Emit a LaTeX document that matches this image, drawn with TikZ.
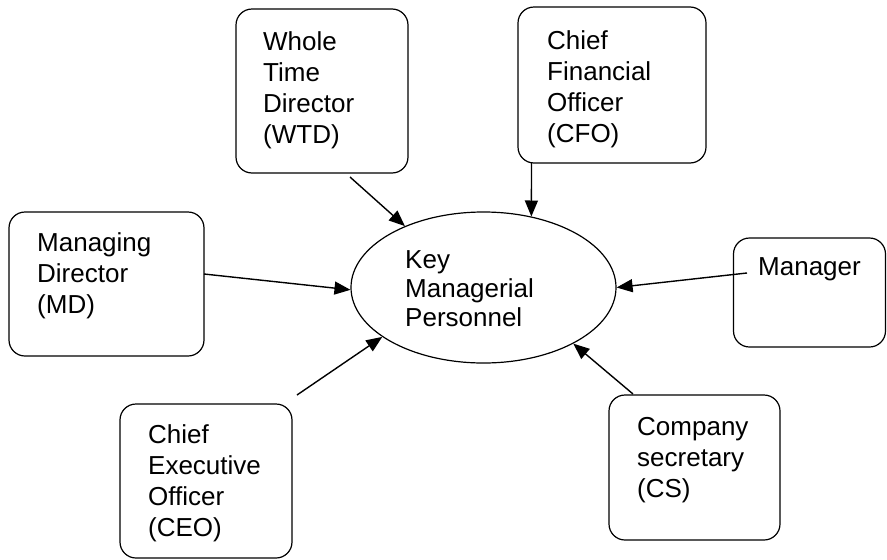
\documentclass[tikz,border=0pt]{standalone}
\usepackage{fontspec}
\setmainfont{Liberation Sans}
\usetikzlibrary{shapes.geometric,arrows.meta}
\begin{document}
\begin{tikzpicture}[x=1pt,y=-1pt,
    role/.style={draw,rounded corners=16pt,line width=1.2pt,inner sep=0pt},
    roletext/.style={anchor=west,align=left,inner sep=0pt,font=\fontsize{26}{31}\selectfont},
    link/.style={-{Triangle[length=16pt,width=13pt]},line width=1.4pt}]
    \useasboundingbox (0,0) rectangle (887,560);
    % centre
    \node[ellipse,draw,line width=1.2pt,minimum width=265pt,minimum height=151pt,inner sep=0pt] (KMP) at (483.5,287.5) {};
    \node[roletext,font=\fontsize{26}{29}\selectfont] (KMPtext) at (405,288.5) {Key\\Managerial\\Personnel};
    % boxes
    \node[role,minimum width=172pt,minimum height=164pt] (WTD) at (322,91) {};
    \node[roletext] (WTDtext) at (263,90) {Whole\\Time\\Director\\(WTD)};
    \node[role,minimum width=188pt,minimum height=156pt] (CFO) at (612,85) {};
    \node[roletext] (CFOtext) at (547,89.5) {Chief\\Financial\\Officer\\(CFO)};
    \node[role,minimum width=195pt,minimum height=144pt] (MD) at (106.5,284) {};
    \node[roletext] (MDtext) at (37,276) {Managing\\Director\\(MD)};
    \node[role,minimum width=152pt,minimum height=109pt] (MGR) at (809.5,292.5) {};
    \node[roletext] (MGRtext) at (758,269) {Manager};
    \node[role,minimum width=172pt,minimum height=154pt] (CEO) at (206,481) {};
    \node[roletext] (CEOtext) at (148,483) {Chief\\Executive\\Officer\\(CEO)};
    \node[role,minimum width=171pt,minimum height=145pt] (CS) at (694.5,467.5) {};
    \node[roletext] (CStext) at (637,460) {Company\\secretary\\(CS)};
    % arrow starts
    \coordinate (fromWTD) at (350,177);
    \coordinate (fromCFO) at (531.5,163);
    \coordinate (fromMD) at (204,274);
    \coordinate (fromMGR) at (747,273);
    \coordinate (fromCEO) at (297,395);
    \coordinate (fromCS) at (633,394);
    \draw[link] (fromWTD) -- (KMP.142);
    \draw[link] (fromCFO) -- (KMP.56);
    \draw[link] (fromMD) -- (KMP.181);
    \draw[link] (fromMGR) -- (KMP.east);
    \draw[link] (fromCEO) -- (KMP.206);
    \draw[link] (fromCS) -- (KMP.328);
\end{tikzpicture}
\end{document}
